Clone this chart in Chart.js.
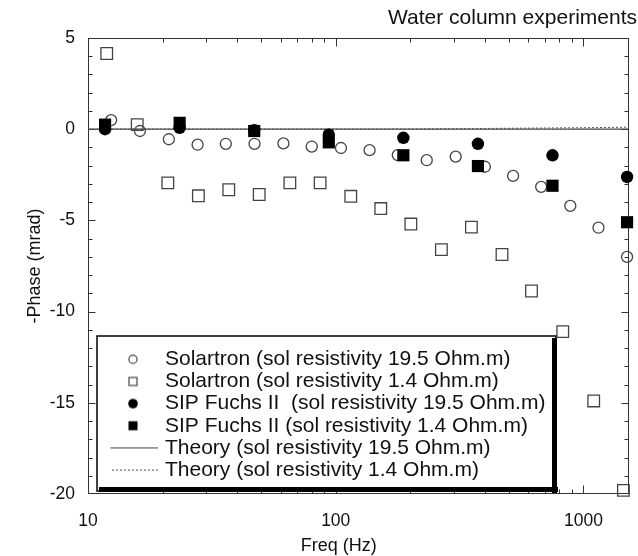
<!DOCTYPE html>
<html><head><meta charset="utf-8">
<script src="https://cdn.jsdelivr.net/npm/chart.js@4/dist/chart.umd.min.js"></script>
<style>html,body{margin:0;padding:0;background:#fff}</style>
</head><body>
<canvas id="c" width="638" height="556"></canvas>
<script>
// ---- data ----
const solartronFreq195 = [12.4, 16.2, 21.2, 27.7, 36, 47, 61.5, 80, 105, 137, 178, 233, 305, 400, 520, 675, 885, 1150, 1500];
const solartronPhase195 = [0.5, -0.1, -0.55, -0.85, -0.8, -0.8, -0.78, -0.95, -1.03, -1.15, -1.42, -1.7, -1.5, -2.06, -2.56, -3.16, -4.2, -5.4, -7.0];
const solartronFreq14 = [11.9, 15.8, 21.0, 27.9, 37.0, 49.1, 65.3, 86.5, 115, 152, 201, 267, 353, 469, 617, 825, 1100, 1450];
const solartronPhase14 = [4.15, 0.25, -2.94, -3.65, -3.32, -3.58, -2.94, -2.94, -3.68, -4.35, -5.2, -6.6, -5.37, -6.87, -8.87, -11.1, -14.9, -19.8];
const sipFreq = [11.72, 23.44, 46.88, 93.75, 187.5, 375, 750, 1500];
const sipPhase195 = [0.0, 0.07, -0.05, -0.3, -0.47, -0.8, -1.43, -2.62];
const sipPhase14 = [0.25, 0.35, -0.1, -0.72, -1.43, -2.02, -3.1, -5.1];
const theoryFreq195 = [10, 100, 1000, 1520];
const theoryPhase195 = [0, 0, 0, 0];
const theoryFreq14 = [10, 200, 500, 1000, 1520];
const theoryPhase14 = [0, 0.01, 0.05, 0.08, 0.11];
const xTickLabels = [10, 100, 1000];
const seriesLabels = [
  'Solartron (sol resistivity 19.5 Ohm.m)',
  'Solartron (sol resistivity 1.4 Ohm.m)',
  'SIP Fuchs II  (sol resistivity 19.5 Ohm.m)',
  'SIP Fuchs II (sol resistivity 1.4 Ohm.m)',
  'Theory (sol resistivity 19.5 Ohm.m)',
  'Theory (sol resistivity 1.4 Ohm.m)'
];

const FONT = "'Liberation Sans', Arial, Helvetica, sans-serif";
Chart.defaults.font.family = FONT;
Chart.defaults.color = '#111';

const pts = (xs, ys) => xs.map((v, i) => ({x: v, y: ys[i]}));

function icon(w, h, draw) {
  const c = document.createElement('canvas');
  c.width = w; c.height = h;
  draw(c.getContext('2d'));
  return c;
}
const legendIcons = [
  icon(12, 12, g => { g.strokeStyle = '#444'; g.lineWidth = 1.2; g.beginPath(); g.arc(6, 6, 4.1, 0, 2 * Math.PI); g.stroke(); }),
  icon(12, 12, g => { g.strokeStyle = '#444'; g.lineWidth = 1.2; g.strokeRect(2, 2, 8, 8); }),
  icon(12, 12, g => { g.fillStyle = '#000'; g.beginPath(); g.arc(6, 6, 4.8, 0, 2 * Math.PI); g.fill(); }),
  icon(12, 12, g => { g.fillStyle = '#000'; g.fillRect(1.5, 1.5, 9, 9); }),
  icon(50, 3, g => { g.strokeStyle = '#444'; g.lineWidth = 1.2; g.beginPath(); g.moveTo(0, 1.5); g.lineTo(50, 1.5); g.stroke(); }),
  icon(50, 3, g => { g.strokeStyle = '#555'; g.lineWidth = 1; g.setLineDash([2, 2]); g.beginPath(); g.moveTo(0, 1.5); g.lineTo(50, 1.5); g.stroke(); })
];

const framePlugin = {
  id: 'frame',
  beforeDraw(chart) {
    const {ctx, chartArea: a, scales: {x, y}} = chart;
    ctx.save();
    ctx.strokeStyle = '#333';
    ctx.lineWidth = 1;
    const L = Math.round(a.left) + 0.5, R = Math.round(a.right) - 0.5;
    const T = Math.round(a.top) + 0.5, B = Math.round(a.bottom) - 0.5;
    ctx.strokeRect(L, T, R - L, B - T);
    ctx.beginPath();
    // x ticks (inward, top and bottom)
    for (let d = 10; d <= 1000; d *= 10) {
      for (let k = 1; k <= 9; k++) {
        const v = d * k;
        if (v <= 10 || v > 1520) continue;
        const len = k === 1 ? 8 : 4;
        const px = Math.round(x.getPixelForValue(v)) + 0.5;
        ctx.moveTo(px, B); ctx.lineTo(px, B - len);
        ctx.moveTo(px, T); ctx.lineTo(px, T + len);
      }
    }
    // y ticks (inward, left and right)
    for (let v = -19; v <= 4; v++) {
      const len = v % 5 === 0 ? 7 : 4;
      const py = Math.round(y.getPixelForValue(v)) + 0.5;
      ctx.moveTo(L, py); ctx.lineTo(L + len, py);
      ctx.moveTo(R, py); ctx.lineTo(R - len, py);
    }
    ctx.stroke();

    // legend frame
    const bx = a.left + 9, by = a.bottom - 158, bw = 459, bh = 155;
    ctx.fillStyle = '#fff';
    ctx.fillRect(bx, by, bw, bh);
    ctx.strokeStyle = '#000';
    ctx.lineWidth = 1.5;
    ctx.strokeRect(bx, by, bw, bh);
    ctx.fillStyle = '#000';
    ctx.fillRect(bx + bw - 4, by + 2, 5, bh);
    ctx.fillRect(bx + 2, by + bh - 4, bw, 5);
    ctx.restore();

    const lg = chart.legend;
    lg.left = bx + 13.35; lg.top = by + 11.65;
    lg.width = 440; lg.height = 150;
    lg.right = lg.left + lg.width; lg.bottom = lg.top + lg.height;
  },
  afterDraw(chart) {
    const {ctx, scales: {x}} = chart;
    ctx.save();
    ctx.font = '18px ' + FONT;
    ctx.fillStyle = '#111';
    ctx.textAlign = 'center';
    ctx.textBaseline = 'middle';
    ctx.fillText('Freq (Hz)', x.getPixelForValue(100) + 3, x.bottom - 10);
    ctx.restore();
  }
};

new Chart(document.getElementById('c'), {
  type: 'scatter',
  data: {
    datasets: [
      {label: seriesLabels[0], data: pts(solartronFreq195, solartronPhase195), pointStyle: 'circle', pointRadius: 5.5,
       borderColor: '#444', backgroundColor: 'rgba(0,0,0,0)', borderWidth: 1.3, pointBorderWidth: 1.3, order: 3, clip: false},
      {label: seriesLabels[1], data: pts(solartronFreq14, solartronPhase14), pointStyle: 'rect', pointRadius: 8.2,
       borderColor: '#444', backgroundColor: 'rgba(0,0,0,0)', borderWidth: 1.3, pointBorderWidth: 1.3, order: 3, clip: false},
      {label: seriesLabels[2], data: pts(sipFreq, sipPhase195), pointStyle: 'circle', pointRadius: 6.2,
       borderColor: '#000', backgroundColor: '#000', borderWidth: 0, pointBorderWidth: 0, order: 1, clip: false},
      {label: seriesLabels[3], data: pts(sipFreq, sipPhase14), pointStyle: 'rect', pointRadius: 8.6,
       borderColor: '#000', backgroundColor: '#000', borderWidth: 0, pointBorderWidth: 0, order: 1, clip: false},
      {label: seriesLabels[4], data: pts(theoryFreq195, theoryPhase195), showLine: true, pointRadius: 0,
       borderColor: '#444', borderWidth: 1.3, backgroundColor: '#444', order: 5},
      {label: seriesLabels[5], data: pts(theoryFreq14, theoryPhase14), showLine: true, pointRadius: 0,
       borderColor: '#555', borderWidth: 1, borderDash: [2, 2], backgroundColor: '#555', order: 4}
    ]
  },
  options: {
    responsive: false,
    animation: false,
    events: [],
    layout: {padding: {left: 0, right: 1, top: 0, bottom: 0}},
    plugins: {
      tooltip: {enabled: false},
      title: {display: true, text: 'Water column experiments', align: 'end', color: '#111',
              font: {size: 21, weight: 'normal', family: FONT}, padding: {top: 6, bottom: 6.8}},
      legend: {
        position: 'chartArea', align: 'start',
        labels: {
          usePointStyle: true, pointStyleWidth: 43, boxHeight: 10, padding: 1.15,
          color: '#111', font: {size: 21, family: FONT},
          generateLabels(chart) {
            const items = Chart.defaults.plugins.legend.labels.generateLabels(chart);
            items.sort((p, q) => p.datasetIndex - q.datasetIndex);
            items.forEach(it => { it.pointStyle = legendIcons[it.datasetIndex]; it.fontColor = '#111'; });
            return items;
          }
        }
      }
    },
    scales: {
      x: {
        type: 'logarithmic', position: 'bottom', min: 10, max: 1520,
        grid: {display: false, drawTicks: false}, border: {display: false},
        ticks: {autoSkip: false, maxRotation: 0, minRotation: 0, padding: 17, color: '#111',
                font: {size: 17.5, family: FONT},
                callback: (v) => xTickLabels.some(t => Math.abs(t - v) < 1e-6) ? String(Math.round(v)) : ''},
        afterFit: (s) => { s.height = 62; s.paddingRight = 0; s.paddingLeft = 0; }
      },
      y: {
        type: 'linear', position: 'left', min: -20, max: 5,
        grid: {display: false, drawTicks: false}, border: {display: false},
        ticks: {stepSize: 5, padding: 13, color: '#111', font: {size: 17.5, family: FONT}},
        title: {display: true, text: '-Phase (mrad)', color: '#111', font: {size: 18, family: FONT}, padding: {top: 24, bottom: 0}},
        afterFit: (s) => { s.width = 88; }
      }
    }
  },
  plugins: [framePlugin]
});
</script>
</body></html>
